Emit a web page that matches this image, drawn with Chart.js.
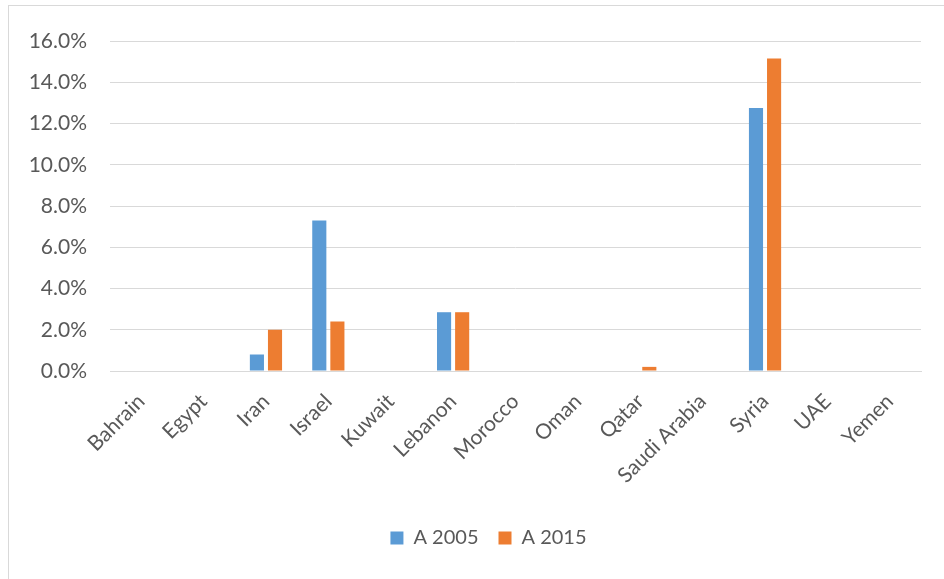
<!DOCTYPE html>
<html>
<head>
<meta charset="utf-8">
<script src="https://cdn.jsdelivr.net/npm/chart.js@4.4.1/dist/chart.umd.min.js"></script>
<style>
  html, body { margin: 0; padding: 0; background: #fff; overflow: hidden; }
  #frame { position: absolute; left: 8px; top: 5px; width: 960px; height: 600px; border: 1px solid #d9d9d9; }
  #wrap { position: absolute; left: 0; top: 0; width: 944px; height: 579px; }
</style>
</head>
<body>
<div id="frame"></div>
<div id="wrap"><canvas id="chart"></canvas></div>
<script>
// countries on the x axis
var countries = ["Bahrain", "Egypt", "Iran", "Israel", "Kuwait", "Lebanon", "Morocco",
                 "Oman", "Qatar", "Saudi Arabia", "Syria", "UAE", "Yemen"];
// values in percent
var a2005 = [0, 0, 0.8, 7.3, 0, 2.85, 0, 0, 0, 0, 12.75, 0, 0];
var a2015 = [0, 0, 2.0, 2.4, 0, 2.85, 0, 0, 0.2, 0, 15.15, 0, 0];
var seriesNames = ["A 2005", "A 2015"];
var yTicksMax = 16;
var yStep = 2;

var textColor = "#595959";
var fontFamily = "Lato, 'Open Sans', sans-serif";

// the legend in the original sits a bit right of the canvas centre
var legendShift = {
  id: 'legendShift',
  afterLayout: function(chart) {
    chart.legend.left += 23;
    chart.legend.right += 23;
  }
};

var ctx = document.getElementById("chart");
var mychart = new Chart(ctx, {
  type: 'bar',
  data: {
    labels: countries,
    datasets: [
      {
        label: seriesNames[0],
        data: a2005,
        backgroundColor: "#5B9BD5",
        categoryPercentage: 0.58,
        barPercentage: 0.78
      },
      {
        label: seriesNames[1],
        data: a2015,
        backgroundColor: "#ED7D31",
        categoryPercentage: 0.58,
        barPercentage: 0.78
      }
    ]
  },
  plugins: [legendShift],
  options: {
    responsive: true,
    maintainAspectRatio: false,
    animation: false,
    layout: { padding: { left: 10, right: 23, top: 41, bottom: 21 } },
    plugins: {
      tooltip: { enabled: false },
      legend: {
        position: 'bottom',
        labels: {
          boxWidth: 13,
          boxHeight: 13,
          padding: 20,
          color: textColor,
          font: { family: fontFamily, size: 20 }
        }
      }
    },
    scales: {
      x: {
        grid: { display: false, drawTicks: false },
        border: { display: true, color: "#d9d9d9", width: 1 },
        ticks: {
          minRotation: 45,
          maxRotation: 45,
          padding: 18,
          color: textColor,
          font: { family: fontFamily, size: 21 }
        },
        afterFit: function(scale) { scale.height = 137; }
      },
      y: {
        min: 0,
        max: yTicksMax,
        grid: { color: "#d9d9d9", drawTicks: false },
        border: { display: false },
        ticks: {
          stepSize: yStep,
          padding: 23,
          color: textColor,
          font: { family: fontFamily, size: 21 },
          callback: function(v) { return v.toFixed(1) + "%"; }
        },
        afterFit: function(scale) { scale.width = 100; }
      }
    }
  }
});
</script>
</body>
</html>
